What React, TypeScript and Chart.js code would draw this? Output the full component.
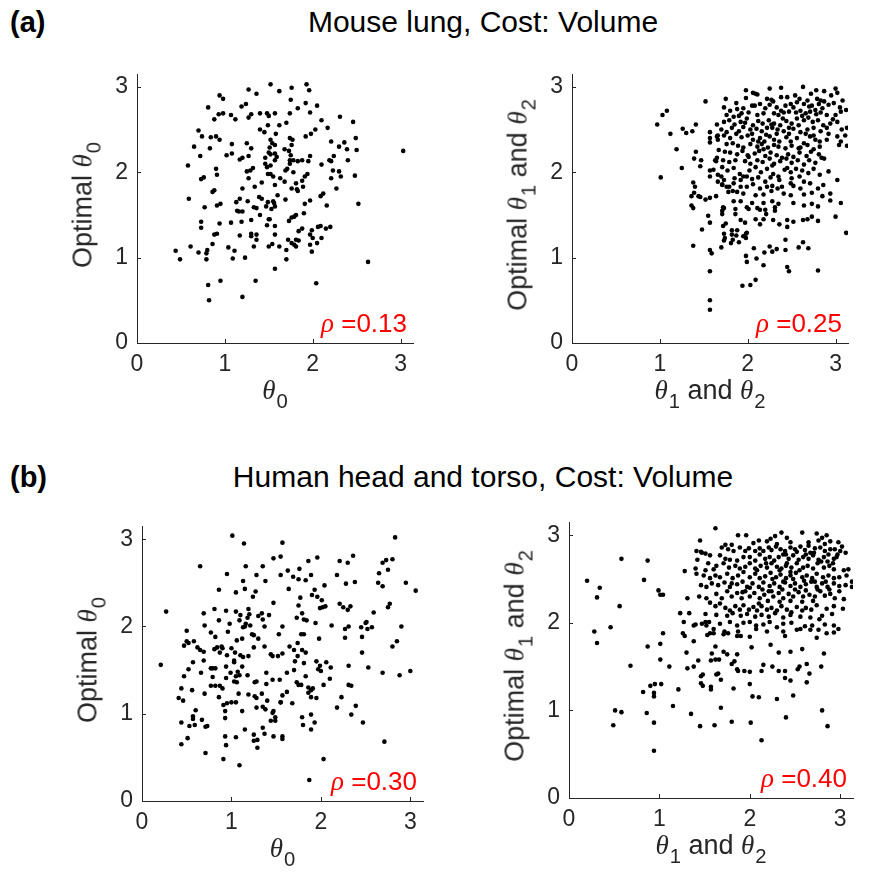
import React, { useEffect, useRef } from 'react';
import { Chart, registerables } from 'chart.js';

Chart.register(...registerables);

// ---------------- data ----------------
const tickValues = [0, 1, 2, 3];
const axisMax = Math.PI;
const rhoLabels = ['0.13', '0.25', '0.30', '0.40'];
const sectionTitles = ['Mouse lung, Cost: Volume', 'Human head and torso, Cost: Volume'];
const sectionTags = ['(a)', '(b)'];

// (a) left: theta0 vs optimal theta0
const mouseLungTheta0: number[][] = [
  [1.52,3.03],[1.93,3.03],[1.76,2.99],[1.27,2.97],[1.62,2.95],[1.96,2.96],[1.36,2.92],[0.94,2.90],[0.98,2.86],[1.75,2.85],
  [0.81,2.76],[1.19,2.77],[1.24,2.80],[1.92,2.81],[2.05,2.78],[1.83,2.75],[0.93,2.68],[0.98,2.69],[1.07,2.67],[1.12,2.62],
  [0.88,2.62],[1.27,2.64],[1.30,2.68],[1.40,2.69],[1.48,2.69],[1.50,2.66],[1.57,2.69],[1.74,2.69],[1.97,2.70],[2.31,2.65],
  [2.46,2.59],[2.10,2.61],[1.49,2.55],[1.62,2.55],[1.70,2.58],[1.40,2.50],[1.45,2.47],[1.58,2.45],[0.70,2.49],[0.74,2.42],
  [0.84,2.41],[0.90,2.42],[0.94,2.38],[1.92,2.42],[1.98,2.45],[2.03,2.50],[2.17,2.52],[1.52,2.38],[1.74,2.40],[1.77,2.38],
  [1.08,2.33],[1.25,2.34],[1.30,2.28],[1.54,2.34],[1.57,2.32],[1.51,2.29],[1.68,2.27],[1.76,2.32],[0.65,2.30],[0.83,2.28],
  [2.21,2.36],[2.36,2.35],[2.30,2.30],[2.39,2.27],[2.49,2.40],[2.50,2.26],[0.72,2.19],[1.02,2.20],[1.08,2.22],[1.17,2.15],
  [1.20,2.17],[1.27,2.19],[1.50,2.23],[1.52,2.21],[1.57,2.22],[1.59,2.18],[1.57,2.14],[1.46,2.17],[1.73,2.25],[1.75,2.20],
  [1.74,2.14],[1.78,2.14],[1.83,2.13],[1.88,2.14],[1.95,2.13],[1.97,2.19],[2.19,2.14],[2.21,2.13],[2.24,2.19],[2.40,2.14],
  [3.03,2.25],[0.58,2.08],[1.46,2.10],[1.48,2.06],[1.52,2.08],[1.69,2.02],[1.71,2.04],[1.74,2.10],[1.78,2.00],[2.10,2.09],
  [0.90,2.04],[0.91,1.97],[1.25,2.01],[1.29,2.02],[1.32,2.05],[2.23,2.02],[2.30,2.01],[2.32,1.95],[2.48,1.96],[0.73,1.92],
  [0.76,1.94],[1.27,1.93],[1.42,1.88],[1.49,1.98],[1.52,1.98],[1.55,1.95],[1.63,1.93],[1.57,1.85],[1.68,1.89],[1.81,1.87],
  [1.88,1.90],[1.91,1.95],[1.94,1.98],[2.21,1.93],[2.27,1.81],[1.20,1.81],[1.34,1.83],[1.76,1.81],[1.82,1.80],[1.83,1.78],
  [1.89,1.83],[0.86,1.77],[0.88,1.79],[0.59,1.69],[1.13,1.65],[1.17,1.69],[1.26,1.66],[1.39,1.71],[1.42,1.69],[1.49,1.65],
  [1.55,1.66],[1.60,1.73],[1.69,1.68],[1.91,1.63],[1.97,1.67],[2.09,1.72],[2.12,1.75],[0.77,1.59],[0.91,1.61],[0.95,1.63],
  [2.16,1.61],[2.52,1.63],[1.33,1.59],[1.47,1.60],[1.57,1.60],[1.56,1.64],
  [1.14,1.55],[1.16,1.54],[1.20,1.54],[1.36,1.58],[1.53,1.57],[1.79,1.48],[1.81,1.50],[1.76,1.47],[1.73,1.43],[1.90,1.52],
  [0.73,1.42],[0.73,1.35],[0.94,1.40],[1.07,1.41],[1.19,1.42],[1.30,1.44],[1.40,1.50],[1.50,1.45],[1.51,1.45],[1.48,1.38],
  [1.57,1.37],[1.84,1.31],[1.88,1.34],[1.99,1.32],[2.06,1.36],[2.09,1.37],[2.15,1.34],[2.20,1.36],[0.88,1.27],[0.91,1.28],
  [1.17,1.26],[1.30,1.28],[1.30,1.25],[1.36,1.27],[1.36,1.21],[1.57,1.27],[1.72,1.21],[1.81,1.21],[1.84,1.20],[1.97,1.27],
  [2.00,1.23],[2.10,1.23],[2.05,1.17],[0.86,1.16],[1.04,1.12],[1.33,1.13],[1.50,1.13],[1.54,1.16],[1.62,1.13],[1.76,1.17],
  [1.79,1.15],[1.81,1.13],[1.70,1.09],[1.97,1.15],[1.99,1.07],[0.61,1.13],[0.44,1.08],[0.70,1.06],[0.80,1.09],[0.79,1.05],
  [1.11,1.08],[0.49,0.98],[0.79,0.98],[1.09,0.99],[1.23,1.00],[1.70,0.98],[2.63,0.95],[1.57,0.87],[0.95,0.73],[0.81,0.68],
  [1.35,0.73],[2.04,0.70],[0.82,0.50],[1.20,0.54],
];

// (a) right: theta1 and theta2 vs optimal
const mouseLungTheta12: number[][] = [
  [0.97,2.56],[1.03,2.67],[1.08,2.72],[1.12,2.45],[1.19,2.27],[1.25,2.05],[1.01,1.94],[1.26,2.51],[1.30,2.46],[1.37,2.48],
  [1.41,2.56],[1.52,2.83],[1.38,1.88],[1.40,1.83],[1.39,1.76],[1.36,1.72],[1.44,1.72],[1.46,1.71],[1.52,1.68],[1.57,1.70],
  [1.64,1.72],[1.36,1.61],[1.38,1.58],[1.72,1.59],[1.41,2.24],[1.39,2.16],[1.47,2.14],[1.46,2.07],[1.57,2.47],[1.57,2.40],
  [1.57,2.35],[1.65,2.56],[1.66,2.43],[1.66,2.38],[1.63,2.14],[1.65,2.17],[1.57,2.02],[1.57,1.95],[1.61,2.03],[1.66,1.97],
  [1.66,1.89],[1.70,1.95],[1.71,1.86],[1.73,1.91],[1.79,1.83],[1.83,1.78],
  [1.98,2.96],[2.06,2.93],[2.09,2.92],[2.11,2.91],[2.25,2.98],[2.38,2.99],[2.63,3.00],[2.72,2.92],[2.78,2.96],[2.87,2.95],
  [3.00,2.98],[3.02,2.93],[2.22,2.86],[2.27,2.85],[2.38,2.88],[2.54,2.90],[2.59,2.86],[2.79,2.86],[2.83,2.84],[1.75,2.86],
  [1.87,2.81],[1.98,2.87],[2.05,2.78],[1.73,2.76],[1.80,2.72],[1.88,2.74],[1.95,2.75],[2.08,2.78],[2.14,2.80],[2.20,2.75],
  [2.25,2.79],[2.29,2.83],[2.33,2.76],[2.38,2.72],[2.43,2.78],[2.49,2.80],[2.56,2.82],[2.64,2.80],[2.68,2.84],[2.73,2.78],
  [2.81,2.80],[2.87,2.83],[2.92,2.79],[2.98,2.81],[3.05,2.76],[3.12,2.73],[1.76,2.67],[1.84,2.65],[1.93,2.69],[2.01,2.70],
  [2.11,2.67],[2.18,2.69],[2.30,2.69],[2.35,2.67],[2.41,2.70],[2.47,2.71],[2.60,2.72],[2.66,2.69],[2.71,2.71],[2.77,2.73],
  [2.83,2.70],[2.90,2.67],[3.00,2.67],[3.06,2.71],[1.73,2.59],[1.79,2.61],[1.85,2.56],[1.92,2.59],[1.99,2.63],[2.06,2.55],
  [2.12,2.60],[2.17,2.57],[2.24,2.61],[2.30,2.57],[2.37,2.55],[2.44,2.60],[2.50,2.57],[2.56,2.63],[2.64,2.61],[2.69,2.64],
  [2.74,2.59],[2.80,2.61],[2.86,2.55],[2.94,2.57],[3.02,2.59],[1.70,2.50],[1.76,2.47],[1.82,2.52],[1.90,2.48],[1.95,2.53],
  [2.03,2.50],[2.10,2.51],[2.16,2.48],[2.22,2.52],[2.28,2.52],[2.34,2.50],[2.41,2.48],[2.47,2.52],[2.52,2.51],[2.60,2.47],
  [2.68,2.50],[2.75,2.52],[2.83,2.48],[2.90,2.52],[3.07,2.50],[3.13,2.52],[1.65,2.42],[1.73,2.43],[1.80,2.40],[1.87,2.45],
  [1.93,2.41],[2.00,2.43],[2.06,2.38],[2.14,2.40],[2.19,2.36],[2.25,2.42],[2.30,2.38],[2.36,2.36],[2.44,2.41],[2.49,2.36],
  [2.56,2.40],[2.64,2.34],[2.71,2.42],[2.77,2.38],[2.82,2.36],[3.02,2.42],[3.06,2.36],[3.11,2.43],[3.04,2.32],[3.13,2.31],
  [1.76,2.33],[1.83,2.34],[1.89,2.31],[1.95,2.29],[2.03,2.33],[2.11,2.30],[2.16,2.33],[2.23,2.29],[2.30,2.32],[2.35,2.30],
  [2.43,2.28],[2.50,2.31],[2.60,2.29],[2.68,2.32],[2.75,2.27],[1.67,2.26],[1.74,2.24],[1.80,2.23],[1.88,2.21],[1.94,2.25],
  [2.01,2.18],[2.08,2.22],[2.13,2.25],[2.20,2.19],[2.26,2.23],[2.33,2.20],[2.39,2.17],[2.46,2.21],[2.52,2.18],[2.59,2.23],
  [2.67,2.19],[2.72,2.24],[2.81,2.21],[2.87,2.16],[1.64,2.13],[1.72,2.14],[1.79,2.12],[1.86,2.14],[1.97,2.13],[2.03,2.10],
  [2.11,2.14],[2.17,2.12],[2.25,2.16],[2.30,2.10],[2.37,2.13],[2.44,2.16],[2.50,2.11],[2.57,2.14],[2.64,2.09],[2.70,2.14],
  [2.77,2.11],[2.84,2.17],[1.71,2.06],[1.77,2.02],[1.84,2.05],[1.91,1.98],[1.95,1.95],[2.02,2.02],[2.09,2.06],[2.15,2.00],
  [2.22,2.04],[2.29,1.98],[2.35,1.95],[2.42,2.03],[2.49,2.00],[2.55,2.04],[2.62,2.02],[2.69,1.99],[2.75,2.04],[2.82,1.97],
  [2.92,2.01],[1.85,1.93],[1.92,1.91],[1.99,1.95],[2.05,1.92],[2.12,1.94],[2.20,1.89],[2.26,1.94],[2.36,1.91],[2.50,1.93],
  [2.59,1.95],[2.64,1.89],[1.71,1.85],[1.76,1.83],[1.84,1.87],[1.92,1.83],[1.99,1.83],[2.06,1.86],[2.14,1.81],[2.22,1.83],
  [2.28,1.84],[2.34,1.81],[2.39,1.83],[2.49,1.87],[2.52,1.84],[2.60,1.81],[2.71,1.87],[2.80,1.81],[2.86,1.85],[3.02,1.91],
  [1.78,1.77],[1.88,1.77],[1.95,1.75],[2.09,1.73],[2.18,1.74],[2.27,1.78],[2.41,1.75],[2.49,1.73],[2.64,1.74],[2.73,1.76],
  [2.85,1.72],[2.94,1.75],[1.84,1.66],[1.92,1.66],[2.05,1.64],[2.18,1.64],[2.28,1.66],[2.35,1.63],[2.52,1.64],[2.64,1.61],
  [2.73,1.63],[2.80,1.60],[2.94,1.67],[3.06,1.64],[1.73,1.58],[1.99,1.59],[2.11,1.58],[2.31,1.59],
  [2.45,2.88],[2.52,2.76],[2.70,2.77],[2.78,2.68],[2.85,2.75],[2.62,2.66],[2.55,2.70],[2.40,2.63],[2.33,2.45],[2.21,2.44],
  [2.12,2.36],[2.18,2.27],[2.27,2.56],[2.47,2.45],[2.58,2.55],[2.66,2.45],[2.75,2.43],[2.92,2.45],[2.97,2.62],[2.05,2.45],
  [1.97,2.58],[1.90,2.66],[2.00,2.20],[2.28,2.08],[2.45,2.05],[2.58,2.28],[2.82,2.30],[2.90,2.38],[3.08,2.84],[2.95,2.90],
  [1.55,1.49],[1.57,1.41],[1.48,1.33],[1.38,1.14],[1.57,1.09],[1.59,1.05],[1.57,0.84],[1.57,0.50],[1.57,0.39],[1.71,1.55],
  [1.71,1.51],[1.72,1.37],[1.73,1.28],[1.74,1.23],[1.73,1.20],[1.82,1.32],[1.82,1.27],[1.83,1.21],[1.81,1.17],[1.86,1.57],
  [1.86,1.51],[1.92,1.44],[1.88,1.32],[1.87,1.26],[1.90,1.18],[1.95,1.25],[1.98,1.28],[1.97,1.41],[1.98,1.23],[2.01,1.57],
  [1.99,1.29],[2.07,1.11],[1.98,1.02],[1.99,0.95],[2.10,0.99],[2.18,0.91],[2.19,1.06],[2.25,1.13],[2.28,1.07],[2.33,1.10],
  [2.09,1.45],[2.18,1.45],[2.14,1.39],[2.14,1.56],[2.20,1.56],[2.21,1.51],[2.29,1.44],[2.31,1.55],[2.36,1.39],[2.45,1.44],
  [2.45,1.36],[2.52,1.42],[2.43,1.21],[2.43,1.09],[2.45,0.89],[2.47,0.84],[2.58,1.12],[2.63,1.18],[2.69,1.11],[2.63,1.44],
  [2.68,1.45],[2.73,1.48],[2.80,1.43],[3.00,1.48],[3.12,1.29],[2.80,0.85],[1.94,0.67],[2.03,0.68],[2.09,0.74],[1.75,1.40],
  [1.70,1.12],
];

// (b) left: theta0 vs optimal theta0
const humanTheta0: number[][] = [
  [1.01,3.04],[1.14,2.95],[1.57,2.96],[2.83,3.02],[0.65,2.69],[0.95,2.60],[1.16,2.69],[1.35,2.69],[1.47,2.78],[1.55,2.80],
  [1.86,2.75],[1.96,2.79],[2.21,2.75],[2.30,2.73],[2.36,2.81],[2.69,2.73],[2.73,2.76],[2.80,2.77],[2.65,2.61],[2.75,2.65],
  [0.86,2.42],[1.13,2.52],[1.05,2.39],[1.15,2.43],[1.27,2.40],[1.24,2.34],[1.28,2.59],[1.38,2.52],[1.55,2.59],[1.63,2.64],
  [1.69,2.57],[1.76,2.66],[1.75,2.54],[1.83,2.53],[1.89,2.59],[1.64,2.43],[2.04,2.47],[2.18,2.59],[2.28,2.49],[2.38,2.51],
  [2.64,2.50],[2.69,2.46],[2.95,2.50],[3.06,2.41],[1.93,2.42],[1.90,2.36],[1.96,2.34],[2.01,2.30],[1.99,2.21],[2.02,2.22],
  [2.05,2.23],[1.77,2.33],[1.75,2.24],[1.47,2.27],[0.27,2.17],[0.69,2.15],[0.81,2.20],[0.94,2.18],[1.05,2.17],[1.10,2.13],
  [1.09,2.07],[1.19,2.20],[1.20,2.14],[1.18,2.10],[1.30,2.12],[1.34,2.15],[1.35,2.08],[1.42,2.13],[1.73,2.10],[1.79,2.15],
  [1.81,2.08],[1.84,2.07],[1.94,2.04],[2.21,2.26],[2.25,2.22],[2.30,2.19],[2.33,2.23],[2.59,2.16],[2.75,2.22],[2.77,2.26],
  [0.70,2.01],[0.86,2.07],[0.98,2.03],[1.13,1.99],[1.15,2.00],[1.16,2.03],[1.21,2.01],[1.37,2.00],[1.57,2.00],[2.12,2.01],
  [2.27,1.97],[2.31,2.00],[2.45,1.99],[2.51,2.05],[2.52,1.97],[2.57,1.99],[2.50,2.04],[2.90,2.00],[0.50,1.95],[0.77,1.93],
  [0.82,1.88],[0.96,1.94],[1.06,1.84],[1.12,1.86],[1.23,1.91],[1.25,1.90],[1.30,1.86],[1.53,1.91],[1.78,1.91],[1.81,1.91],
  [1.98,1.86],[2.27,1.87],[2.46,1.88],[0.50,1.83],[0.47,1.78],[0.52,1.81],[0.58,1.83],[0.62,1.76],[0.65,1.73],[0.69,1.71],
  [0.81,1.74],[0.84,1.76],[0.89,1.77],[0.90,1.75],[1.00,1.75],[0.87,1.70],[0.95,1.67],[1.04,1.70],[1.25,1.76],[1.37,1.77],
  [1.44,1.68],[1.52,1.66],[1.57,1.69],[1.65,1.77],[1.70,1.73],[1.74,1.81],[1.79,1.73],[1.83,1.70],[1.74,1.66],[2.46,1.70],
  [2.80,1.77],[2.85,1.83],[1.10,1.67],[1.13,1.65],[1.19,1.66],[1.46,1.66],
  [0.21,1.56],[0.57,1.59],[0.69,1.61],[1.03,1.59],[1.12,1.54],[1.03,1.61],[1.71,1.60],[1.81,1.58],[1.95,1.60],[1.99,1.55],
  [2.06,1.59],[1.97,1.51],[2.11,1.53],[2.00,1.49],[2.31,1.55],[2.53,1.53],[2.69,1.47],[2.88,1.44],[3.00,1.49],[0.52,1.51],
  [0.47,1.43],[0.66,1.47],[0.77,1.52],[0.79,1.52],[0.82,1.52],[0.79,1.42],[0.94,1.54],[0.99,1.47],[1.07,1.48],[1.05,1.43],
  [1.09,1.44],[1.18,1.44],[0.94,1.41],[0.77,1.32],[0.82,1.32],[0.87,1.32],[0.90,1.29],[0.70,1.23],[0.56,1.27],[0.44,1.29],
  [0.41,1.18],[0.46,1.15],[0.86,1.19],[1.03,1.37],[1.06,1.36],[1.08,1.23],[1.19,1.22],[1.26,1.36],[1.28,1.37],[1.26,1.20],
  [1.28,1.18],[1.34,1.23],[1.39,1.47],[1.39,1.34],[1.46,1.39],[1.54,1.39],[1.62,1.47],[1.70,1.50],[1.73,1.36],[1.75,1.33],
  [1.78,1.33],[1.83,1.43],[1.86,1.30],[1.89,1.27],[1.91,1.29],[1.86,1.24],[1.89,1.19],[1.95,1.18],[1.62,1.25],[1.57,1.21],
  [1.55,1.13],[1.68,1.12],[2.03,1.33],[2.10,1.40],[2.31,1.33],[2.34,1.32],[2.23,1.19],[2.18,1.07],[2.39,1.09],[2.34,0.99],
  [2.47,0.90],[2.71,0.68],[2.03,0.48],[1.87,0.24],[0.91,1.10],[0.95,1.12],[1.00,1.13],[1.05,1.13],[1.12,1.03],[1.40,1.15],
  [1.35,1.08],[1.28,1.07],[1.38,1.05],[1.47,1.03],[1.46,1.01],[1.55,1.13],[1.49,0.96],[1.44,0.92],[1.49,0.92],[1.79,0.96],
  [1.89,0.99],[1.80,0.87],[1.89,0.82],[1.93,0.90],[1.15,0.82],[0.93,1.03],[0.93,0.95],[0.44,0.90],[0.53,0.86],[0.59,0.87],
  [0.67,0.93],[0.60,1.04],[0.57,0.97],[0.57,0.94],[0.71,0.85],[0.73,0.86],[1.05,0.73],[0.93,0.74],[0.94,0.64],[1.25,0.76],
  [1.25,0.69],[1.29,0.70],[1.29,0.61],[1.35,0.84],[1.37,0.77],[1.47,0.74],[1.57,0.74],[1.57,0.71],[0.51,0.72],[0.44,0.65],
  [0.71,0.55],[0.91,0.48],[1.09,0.41],
];

// (b) right: theta1 and theta2 vs optimal
const humanTheta12: number[][] = [
  [0.20,2.48],[0.34,2.40],[0.31,2.29],[0.56,2.19],[0.58,2.73],[0.87,2.71],[0.83,2.49],[0.99,2.37],[1.01,2.32],[1.04,2.32],
  [0.28,1.90],[0.46,1.95],[0.31,1.77],[0.87,1.73],[1.01,1.76],[1.04,1.88],[1.28,2.59],[1.31,2.28],[1.62,3.08],[1.45,2.94],
  [1.42,2.72],[1.46,2.81],[1.51,2.79],[1.40,2.62],[1.41,2.56],[1.49,2.54],[1.51,2.60],[1.60,2.61],[1.23,2.11],[1.33,2.11],
  [1.27,2.01],[1.26,1.88],[1.28,1.85],[1.38,1.79],[1.38,1.97],[1.40,1.98],[1.47,1.99],[1.51,2.01],[1.52,1.97],[1.55,2.01],
  [1.56,1.88],[1.53,1.86],[1.60,1.93],[1.72,1.90],[1.76,1.88],[1.87,1.90],[1.90,1.85],[2.02,1.72],[1.62,1.73],[2.23,1.75],
  [1.30,1.66],[1.58,1.65],[1.71,1.67],[1.75,1.64],[1.86,1.64],[2.32,1.66],[2.45,1.67],[2.58,1.70],[2.82,1.65],
  [1.87,3.00],[1.96,3.00],[2.04,2.91],[2.10,2.94],[2.19,2.93],[2.23,2.96],[2.28,2.99],[2.35,3.03],[2.41,2.97],[2.45,2.92],
  [2.58,3.03],[2.65,2.92],[2.74,3.02],[2.80,2.97],[2.85,3.00],[2.89,2.93],[2.98,2.92],[3.02,2.87],[1.69,2.86],[1.73,2.89],
  [1.80,2.89],[1.76,2.84],[1.82,2.82],[1.89,2.86],[1.95,2.82],[1.99,2.85],[2.06,2.82],[2.11,2.85],[2.15,2.82],[2.21,2.86],
  [2.24,2.83],[2.29,2.87],[2.34,2.84],[2.39,2.82],[2.45,2.86],[2.50,2.84],[2.56,2.87],[2.61,2.83],[2.67,2.80],[2.72,2.85],
  [2.78,2.86],[2.83,2.82],[2.89,2.84],[2.94,2.84],[3.00,2.82],[3.06,2.80],[1.41,2.82],[1.47,2.80],[1.56,2.77],[1.67,2.77],
  [1.73,2.73],[1.78,2.72],[1.86,2.71],[1.93,2.75],[2.00,2.75],[2.06,2.71],[2.11,2.78],[2.17,2.73],[2.22,2.75],[2.27,2.71],
  [2.32,2.75],[2.37,2.78],[2.43,2.73],[2.48,2.77],[2.54,2.72],[2.59,2.75],[2.65,2.73],[2.70,2.77],[2.76,2.72],[2.82,2.75],
  [2.87,2.78],[2.93,2.73],[2.96,2.75],[1.54,2.68],[1.63,2.65],[1.71,2.68],[1.77,2.63],[1.84,2.65],[1.89,2.62],[1.95,2.64],
  [2.00,2.68],[2.06,2.62],[2.12,2.65],[2.19,2.63],[2.24,2.68],[2.30,2.64],[2.35,2.62],[2.41,2.68],[2.46,2.63],[2.52,2.68],
  [2.59,2.63],[2.64,2.65],[2.70,2.62],[2.75,2.68],[2.82,2.63],[2.88,2.65],[2.93,2.61],[3.04,2.60],[3.09,2.61],[1.56,2.51],
  [1.62,2.54],[1.67,2.52],[1.75,2.56],[1.81,2.51],[1.87,2.54],[1.93,2.58],[2.00,2.52],[2.06,2.56],[2.11,2.51],[2.17,2.53],
  [2.23,2.57],[2.29,2.52],[2.34,2.55],[2.40,2.51],[2.45,2.54],[2.51,2.57],[2.58,2.52],[2.63,2.54],[2.69,2.51],[2.74,2.56],
  [2.81,2.52],[2.87,2.54],[2.93,2.51],[2.99,2.52],[3.07,2.54],[3.13,2.47],[3.13,2.41],[1.46,2.43],[1.52,2.41],[1.58,2.45],
  [1.65,2.43],[1.72,2.46],[1.78,2.41],[1.86,2.44],[1.92,2.47],[1.97,2.41],[2.03,2.45],[2.10,2.41],[2.15,2.46],[2.22,2.42],
  [2.27,2.45],[2.33,2.41],[2.39,2.46],[2.45,2.42],[2.50,2.45],[2.56,2.41],[2.62,2.44],[2.68,2.47],[2.74,2.41],[2.80,2.45],
  [2.86,2.41],[2.93,2.45],[2.99,2.42],[3.06,2.43],[1.44,2.30],[1.52,2.28],[1.56,2.23],[1.63,2.33],[1.69,2.28],[1.75,2.36],
  [1.80,2.30],[1.86,2.34],[1.91,2.28],[1.95,2.36],[2.00,2.30],[2.05,2.34],[2.11,2.28],[2.16,2.32],[2.21,2.36],[2.26,2.30],
  [2.32,2.34],[2.37,2.28],[2.43,2.33],[2.48,2.30],[2.54,2.35],[2.59,2.30],[2.66,2.32],[2.72,2.30],[2.78,2.36],[2.83,2.31],
  [2.89,2.33],[2.94,2.28],[2.99,2.36],[3.04,2.27],[1.62,2.19],[1.67,2.22],[1.73,2.17],[1.78,2.14],[1.84,2.19],[1.89,2.15],
  [1.93,2.20],[1.99,2.15],[2.04,2.18],[2.08,2.14],[2.13,2.19],[2.19,2.15],[2.24,2.17],[2.30,2.14],[2.35,2.19],[2.41,2.15],
  [2.46,2.12],[2.52,2.18],[2.58,2.14],[2.62,2.17],[2.68,2.15],[2.74,2.20],[2.80,2.08],[2.85,2.16],[2.93,2.19],[3.03,2.16],
  [1.51,2.10],[1.63,2.09],[1.75,2.08],[1.81,2.11],[1.90,2.08],[1.97,2.10],[2.06,2.07],[2.13,2.09],[2.21,2.07],[2.28,2.11],
  [2.37,2.06],[2.45,2.09],[2.56,2.07],[2.67,2.06],[2.77,2.04],[2.91,2.10],[1.67,1.99],[1.78,2.01],[1.86,1.97],[1.93,2.00],
  [2.00,2.01],[2.07,1.97],[2.15,1.98],[2.22,2.01],[2.30,1.95],[2.37,1.99],[2.46,2.00],[2.56,1.93],[2.61,1.96],[2.69,1.97],
  [2.76,1.92],[2.83,1.98],[2.93,1.97],[2.98,1.93],[1.60,1.88],[1.71,1.87],[1.86,1.85],[2.00,1.84],[2.07,1.93],[2.19,1.90],
  [2.37,1.90],[2.39,1.85],[2.52,1.92],[2.67,1.92],[2.74,1.83],[2.85,1.88],[2.93,1.89],
  [2.40,2.78],[2.52,2.81],[2.62,2.78],[2.71,2.80],[2.79,2.70],[2.86,2.70],[2.55,2.60],[2.45,2.58],[2.33,2.60],[2.25,2.50],
  [2.37,2.47],[2.48,2.50],[2.60,2.48],[2.72,2.47],[2.84,2.47],[2.14,2.38],[2.24,2.36],[2.36,2.38],[2.50,2.38],[2.62,2.37],
  [2.75,2.38],[2.88,2.38],[2.20,2.25],[2.33,2.24],[2.45,2.25],[2.58,2.24],[2.70,2.25],[2.10,2.22],[2.40,2.65],[2.92,2.68],
  [2.97,2.78],[2.65,2.88],[2.30,2.90],[2.18,2.68],[2.08,2.60],[2.00,2.40],[1.92,2.35],[1.80,2.45],[2.83,2.90],[2.76,2.94],
  [0.68,1.51],[1.01,1.58],[1.11,1.50],[1.31,1.48],[1.38,1.50],[1.43,1.57],[1.46,1.39],[1.48,1.41],[1.46,1.31],[1.48,1.28],
  [1.57,1.27],[1.57,1.24],[1.63,1.41],[1.65,1.42],[1.68,1.35],[1.57,1.57],[1.62,1.58],[1.66,1.58],[1.80,1.53],[1.83,1.56],
  [1.86,1.47],[1.87,1.45],[1.94,1.45],[2.00,1.44],[2.00,1.30],[2.03,1.16],[2.10,1.15],[2.13,1.45],[2.15,1.52],[2.25,1.50],
  [2.32,1.45],[2.39,1.45],[2.39,1.37],[2.45,1.34],[2.48,1.17],[2.53,1.47],[2.55,1.50],[2.63,1.53],[2.66,1.42],[2.63,1.32],
  [2.79,1.50],[2.30,1.13],[2.40,0.92],[2.13,0.66],[2.01,0.86],[1.80,0.87],[1.68,1.03],[1.61,0.83],[1.45,0.82],[1.35,0.96],
  [1.15,1.05],[1.21,1.24],[0.82,1.21],[0.90,1.28],[0.95,1.30],[1.02,1.30],[0.94,1.20],[0.94,1.16],[0.86,0.97],[0.94,0.86],
  [0.94,0.54],[0.49,0.83],[0.51,1.00],[0.58,0.98],[1.82,1.25],[2.80,1.00],[2.86,0.82],
];

// ---------------- layout / style ----------------
const SANS = "'Liberation Sans', Arial, Helvetica, sans-serif";
const SERIF = "'Liberation Serif', 'Times New Roman', serif";
const AXIS_COLOR = '#262626';
const PAD_L = 60;
const PAD_T = 14;
const PAD_R = 16;
const PAD_B = 42;

type Area = { l: number; t: number; r: number; b: number };

const areas: Area[] = [
  { l: 137, t: 66, r: 413, b: 343 },
  { l: 572, t: 66, r: 848, b: 343 },
  { l: 142, t: 518, r: 423, b: 801 },
  { l: 569, t: 514, r: 853, b: 798 },
];

const Theta = ({ sub }: { sub: string }) => (
  <span>
    <span style={{ fontFamily: SERIF, fontStyle: 'italic' }}>θ</span>
    <span style={{ fontSize: '0.75em', position: 'relative', top: '0.45em', marginLeft: '1px' }}>{sub}</span>
  </span>
);

function ScatterPanel({ data, area, rho }: { data: number[][]; area: Area; rho: string }) {
  const ref = useRef<HTMLCanvasElement | null>(null);
  const width = area.r - area.l + PAD_L + PAD_R;
  const height = area.b - area.t + PAD_T + PAD_B;

  useEffect(() => {
    if (!ref.current) return;
    const inwardTicks = {
      id: 'inwardTicks',
      afterDraw(chart: any) {
        const { ctx, chartArea } = chart;
        const xs = chart.scales.x;
        const ys = chart.scales.y;
        ctx.save();
        ctx.strokeStyle = AXIS_COLOR;
        ctx.lineWidth = 1;
        ctx.beginPath();
        xs.ticks.forEach((t: any) => {
          const px = Math.round(xs.getPixelForValue(t.value)) + 0.5;
          ctx.moveTo(px, chartArea.bottom);
          ctx.lineTo(px, chartArea.bottom - 4);
        });
        ys.ticks.forEach((t: any) => {
          const py = Math.round(ys.getPixelForValue(t.value)) + 0.5;
          ctx.moveTo(chartArea.left, py);
          ctx.lineTo(chartArea.left + 4, py);
        });
        ctx.stroke();
        ctx.restore();
      },
    };
    const rhoText = {
      id: 'rhoText',
      afterDraw(chart: any) {
        const { ctx, chartArea } = chart;
        const right = chartArea.right - 6;
        const base = chartArea.bottom - 11;
        ctx.save();
        ctx.fillStyle = '#ff0000';
        ctx.textBaseline = 'alphabetic';
        ctx.textAlign = 'left';
        ctx.font = `26px ${SANS}`;
        const rest = ' =' + rho;
        const wRest = ctx.measureText(rest).width;
        ctx.fillText(rest, right - wRest, base);
        ctx.font = `italic 27px ${SERIF}`;
        const wRho = ctx.measureText('ρ').width;
        ctx.fillText('ρ', right - wRest - wRho, base);
        ctx.restore();
      },
    };
    const tickFont = { family: SANS, size: 23 };
    const chart = new Chart(ref.current, {
      type: 'scatter',
      data: {
        datasets: [
          {
            data: data.map(([x, y]) => ({ x, y })),
            pointRadius: 2.3,
            pointHoverRadius: 2.3,
            backgroundColor: '#000000',
            borderWidth: 0,
          },
        ],
      },
      options: {
        animation: false,
        responsive: false,
        events: [],
        layout: { padding: { left: 0, top: PAD_T, right: PAD_R, bottom: 0 } },
        plugins: { legend: { display: false }, tooltip: { enabled: false } },
        scales: {
          x: {
            type: 'linear',
            min: 0,
            max: axisMax,
            afterFit: (s: any) => { s.height = PAD_B; },
            afterBuildTicks: (s: any) => { s.ticks = tickValues.map((v) => ({ value: v })); },
            grid: { display: false, drawTicks: false },
            border: { display: true, color: AXIS_COLOR, width: 1 },
            ticks: { font: tickFont, color: AXIS_COLOR, padding: 8, maxRotation: 0, autoSkip: false },
          },
          y: {
            type: 'linear',
            min: 0,
            max: axisMax,
            afterFit: (s: any) => { s.width = PAD_L; },
            afterBuildTicks: (s: any) => { s.ticks = tickValues.map((v) => ({ value: v })); },
            grid: { display: false, drawTicks: false },
            border: { display: true, color: AXIS_COLOR, width: 1 },
            ticks: { font: tickFont, color: AXIS_COLOR, padding: 9, autoSkip: false },
          },
        },
      },
      plugins: [inwardTicks, rhoText],
    } as any);
    return () => chart.destroy();
  }, [data, rho]);

  return (
    <canvas
      ref={ref}
      width={width}
      height={height}
      style={{ position: 'absolute', left: area.l - PAD_L, top: area.t - PAD_T, width, height }}
    />
  );
}

function XTitle({ area, children }: { area: Area; children: React.ReactNode }) {
  return (
    <div
      style={{
        position: 'absolute',
        left: (area.l + area.r) / 2,
        top: area.b + 34,
        transform: 'translateX(-50%)',
        fontFamily: SANS,
        fontSize: 27,
        lineHeight: '27px',
        whiteSpace: 'nowrap',
        color: AXIS_COLOR,
      }}
    >
      {children}
    </div>
  );
}

function YTitle({ area, children }: { area: Area; children: React.ReactNode }) {
  return (
    <div
      style={{
        position: 'absolute',
        left: area.l - 53,
        top: (area.t + area.b) / 2,
        transform: 'translate(-50%, -50%) rotate(-90deg)',
        fontFamily: SANS,
        fontSize: 27,
        lineHeight: '27px',
        whiteSpace: 'nowrap',
        color: AXIS_COLOR,
      }}
    >
      {children}
    </div>
  );
}

function Heading({ tag, title, y }: { tag: string; title: string; y: number }) {
  return (
    <>
      <div
        style={{
          position: 'absolute', left: 10, top: y - 16, fontFamily: SANS, fontWeight: 'bold',
          fontSize: 29, lineHeight: '32px', color: '#000',
        }}
      >
        {tag}
      </div>
      <div
        style={{
          position: 'absolute', left: 483, top: y - 16, transform: 'translateX(-50%)',
          fontFamily: SANS, fontSize: 30, lineHeight: '32px', whiteSpace: 'nowrap', color: '#000',
        }}
      >
        {title}
      </div>
    </>
  );
}

export default function App() {
  return (
    <div style={{ position: 'absolute', left: 0, top: 0, width: 869, height: 880, background: '#fff', overflow: 'hidden' }}>
      <Heading tag={sectionTags[0]} title={sectionTitles[0]} y={22} />
      <Heading tag={sectionTags[1]} title={sectionTitles[1]} y={477} />

      <ScatterPanel data={mouseLungTheta0} area={areas[0]} rho={rhoLabels[0]} />
      <ScatterPanel data={mouseLungTheta12} area={areas[1]} rho={rhoLabels[1]} />
      <ScatterPanel data={humanTheta0} area={areas[2]} rho={rhoLabels[2]} />
      <ScatterPanel data={humanTheta12} area={areas[3]} rho={rhoLabels[3]} />

      <YTitle area={areas[0]}>Optimal <Theta sub="0" /></YTitle>
      <XTitle area={areas[0]}><Theta sub="0" /></XTitle>
      <YTitle area={areas[1]}>Optimal <Theta sub="1" /> and <Theta sub="2" /></YTitle>
      <XTitle area={areas[1]}><Theta sub="1" /> and <Theta sub="2" /></XTitle>
      <YTitle area={areas[2]}>Optimal <Theta sub="0" /></YTitle>
      <XTitle area={areas[2]}><Theta sub="0" /></XTitle>
      <YTitle area={areas[3]}>Optimal <Theta sub="1" /> and <Theta sub="2" /></YTitle>
      <XTitle area={areas[3]}><Theta sub="1" /> and <Theta sub="2" /></XTitle>
    </div>
  );
}
